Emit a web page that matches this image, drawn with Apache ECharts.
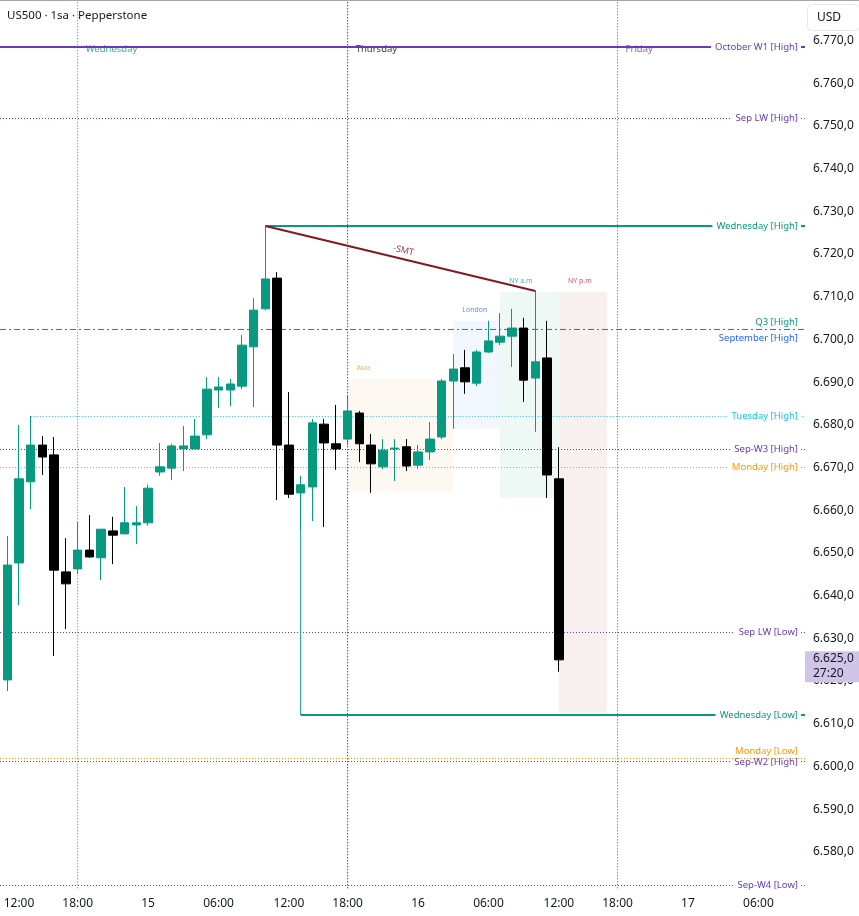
<!DOCTYPE html>
<html>
<head>
<meta charset="utf-8">
<style>html,body{margin:0;padding:0;background:#fff}#main{width:859px;height:916px}</style>
<script src="https://cdn.jsdelivr.net/npm/echarts@6/dist/echarts.min.js"></script>
</head>
<body>
<div id="main"></div>
<script>
// hourly bars, one bar per session hour (market closes 1h a day, so the bar number is the x value)
var opens = [6619.9,6647.3,6666.3,6674.9,6672.6,6645.2,6645.9,6650.3,6648.5,6654.8,6654.1,6656.2,6656.7,6668.6,6669.5,6674.0,6674.0,6677.3,6687.8,6687.8,6688.7,6697.9,6706.8,6714.0,6674.9,6663.7,6665.1,6679.8,6675.2,6676.3,6682.4,6674.9,6669.8,6674.0,6674.5,6670.2,6673.3,6676.8,6689.9,6693.0,6689.4,6696.7,6699.0,6700.4,6702.3,6690.6,6695.3,6667.0];
var closes = [6646.8,6667.0,6674.9,6672.1,6645.6,6642.4,6650.3,6648.7,6655.2,6653.8,6656.7,6656.7,6664.8,6669.8,6674.7,6674.7,6677.0,6688.0,6688.5,6689.2,6698.3,6706.5,6713.8,6674.9,6663.4,6665.6,6680.1,6675.4,6674.0,6682.9,6675.2,6670.5,6673.7,6674.2,6670.0,6673.3,6676.3,6689.9,6692.7,6689.7,6696.7,6699.3,6700.4,6702.3,6690.1,6694.4,6667.9,6624.6];
var lows = [6617.3,6637.4,6659.9,6667.9,6625.5,6631.8,6644.7,6648.5,6643.3,6647.0,6654.1,6651.7,6656.0,6667.7,6666.7,6668.8,6674.0,6676.3,6683.6,6684.0,6688.0,6683.8,6706.5,6662.0,6662.5,6655.0,6657.1,6655.7,6669.1,6674.9,6670.9,6663.7,6669.3,6666.5,6668.8,6669.3,6671.4,6676.3,6678.7,6686.9,6688.7,6696.5,6698.3,6693.2,6685.0,6678.0,6662.5,6621.8];
var highs = [6653.6,6679.6,6681.7,6677.0,6676.8,6653.1,6656.9,6658.5,6655.2,6658.1,6665.1,6660.6,6665.6,6675.4,6675.2,6679.4,6681.0,6690.8,6690.8,6690.4,6700.7,6709.3,6726.2,6715.4,6687.3,6667.7,6681.0,6681.0,6684.3,6686.6,6682.9,6677.5,6676.3,6676.3,6676.3,6674.9,6680.3,6690.4,6696.2,6697.2,6697.2,6704.0,6705.8,6706.8,6704.7,6711.0,6704.0,6674.4];

var timeTicks = [1,6,12,18,24,29,35,41,47,52,58,64];
var timeLabels = ['12:00','18:00','15','06:00','12:00','18:00','16','06:00','12:00','18:00','17','06:00'];
var priceTicks = [6580,6590,6600,6610,6620,6630,6640,6650,6660,6670,6680,6690,6700,6710,6720,6730,6740,6750,6760,6770];

// horizontal levels
var levelNames = ['October W1 [High]','Sep LW [High]','Wednesday [High]','September [High]','Q3 [High]','Tuesday [High]','Sep-W3 [High]','Monday [High]','Sep LW [Low]','Wednesday [Low]','Monday [Low]','Sep-W2 [High]','Sep-W4 [Low]'];
var levelValues = [6768.13,6751.38,6726.21,6701.97,6701.97,6681.59,6673.86,6669.65,6631.01,6611.69,6601.5,6600.8,6571.76];
var levelFromBar = [null,null,22,null,null,2,null,null,null,25,null,null,null];

// sessions
var sessionNames = ['Asia','London','NY a.m','NY p.m'];
var sessionFrom = [29,38,42,47];
var sessionTo = [38,42,47,51.1];
var sessionTop = [6690.4,6704.0,6710.8,6710.8];
var sessionBottom = [6663.8,6678.7,6662.5,6612.0];

// day separators
var dayNames = ['Wednesday','Thursday','Friday'];
var dayBars = [6,29,52];

var smtFrom = [22,6726.21];
var smtTo = [45,6711.0];
var lastPrice = 6625;
var countdown = '27:20';

var PURPLE = '#673ab7', TEAL = '#089981', CYAN = '#22c3d6', BLUE = '#2962ff', ORANGE = '#ff9800', DARK = '#131722';
var FONT = '"Noto Sans", sans-serif';
var xMin = -0.62, xMax = 67.97, yMin = 6570, yMax = 6779.13;

// line look and label placement for each level
var levelStyle = {
    'October W1 [High]': {color: PURPLE, width: 2, type: 'solid'},
    'Sep LW [High]': {color: PURPLE, width: 1, type: [1,2]},
    'Wednesday [High]': {color: TEAL, width: 2, type: 'solid'},
    'September [High]': {color: BLUE, width: 1, type: [6,3,2,3], dy: 8.5, plain: true},
    'Q3 [High]': {color: TEAL, width: 1, type: [6,8], dy: -7.5, plain: true},
    'Tuesday [High]': {color: CYAN, width: 1, type: [1,2]},
    'Sep-W3 [High]': {color: PURPLE, width: 1, type: [1,2]},
    'Monday [High]': {color: ORANGE, width: 1, type: [1,2]},
    'Sep LW [Low]': {color: PURPLE, width: 1, type: [1,2]},
    'Wednesday [Low]': {color: TEAL, width: 2, type: 'solid'},
    'Monday [Low]': {color: ORANGE, width: 1, type: [1,2], dy: -7.5, plain: true, z: 2.6},
    'Sep-W2 [High]': {color: PURPLE, width: 1, type: [1,2], dy: 0.5},
    'Sep-W4 [Low]': {color: PURPLE, width: 1, type: [1,2]}
};
var sessionFill = {'Asia': '#fdf9f2', 'London': '#f2f6fe', 'NY a.m': '#eef8f4', 'NY p.m': '#f8efef'};
var sessionText = {'Asia': ORANGE, 'London': BLUE, 'NY a.m': TEAL, 'NY p.m': '#b22833'};
var dayColor = {'Wednesday': TEAL, 'Thursday': '#000000', 'Friday': PURPLE};

function fmtPrice(v) {
    return Math.floor(v / 1000) + '.' + ('00' + (v % 1000)).slice(-3) + ',0';
}

function lineSeries(points, color, width, type, z) {
    return {
        type: 'line', data: points, showSymbol: false, silent: true, z: z, clip: false,
        lineStyle: {color: color, width: width, type: type, cap: 'butt'}
    };
}

var series = [];

// session boxes
series.push({
    type: 'custom', z: 1, silent: true, clip: false,
    data: sessionNames.map(function (n, i) { return [sessionFrom[i], sessionTo[i], sessionTop[i], sessionBottom[i]]; }),
    encode: {x: [0,1], y: [2,3]},
    renderItem: function (params, api) {
        var name = sessionNames[params.dataIndex];
        var a = api.coord([api.value(0), api.value(2)]);
        var b = api.coord([api.value(1), api.value(3)]);
        return {type: 'group', children: [
            {type: 'rect', shape: {x: a[0], y: a[1], width: b[0] - a[0], height: b[1] - a[1]}, style: {fill: sessionFill[name]}},
            {type: 'text', x: a[0] + 9, y: a[1] - 10.5, style: {text: name, fill: sessionText[name], opacity: 0.75, font: '7px ' + FONT, verticalAlign: 'middle'}}
        ]};
    }
});

// day separators with their names
dayNames.forEach(function (n, i) {
    series.push(lineSeries([[dayBars[i], yMin + 1.1], [dayBars[i], yMax]], dayColor[n], 1, [1,2], 1.4));
});
series.push({
    type: 'custom', z: 1.5, silent: true, clip: false,
    data: dayNames.map(function (n, i) { return [dayBars[i], levelValues[0]]; }),
    encode: {x: 0, y: 1},
    renderItem: function (params, api) {
        var name = dayNames[params.dataIndex];
        var p = api.coord([api.value(0), api.value(1)]);
        return {type: 'text', x: p[0] + 8, y: p[1] + 2, style: {text: name, fill: dayColor[name], opacity: 0.8, font: '9.5px ' + FONT, verticalAlign: 'middle'}};
    }
});

// levels
levelNames.forEach(function (n, i) {
    var s = levelStyle[n];
    var from = levelFromBar[i] === null ? xMin : levelFromBar[i];
    series.push(lineSeries([[from, levelValues[i]], [xMax, levelValues[i]]], s.color, s.width, s.type, s.z || 2));
});
// connector from the Wednesday low back up to its bar
series.push(lineSeries([[levelFromBar[9], lows[25]], [levelFromBar[9], levelValues[9]]], TEAL, 1, 'solid', 2));

// level labels
series.push({
    type: 'custom', z: 2.5, silent: true, clip: false,
    data: levelNames.map(function (n, i) { return [xMax, levelValues[i]]; }),
    encode: {x: 0, y: 1},
    renderItem: function (params, api) {
        var name = levelNames[params.dataIndex];
        var s = levelStyle[name];
        var p = api.coord([api.value(0), api.value(1)]);
        return {type: 'text', x: p[0] - 4, y: p[1] + (s.dy || 0), style: {
            text: name, fill: s.color, font: '9.5px ' + FONT, align: 'right', verticalAlign: 'middle',
            backgroundColor: s.plain ? 'transparent' : '#ffffff', padding: [0,3,0,4]
        }};
    }
});

// candles
series.push({
    type: 'candlestick', z: 3, barWidth: 9, silent: true, clip: false,
    data: opens.map(function (o, i) { return [i, o, closes[i], lows[i], highs[i]]; }),
    itemStyle: {color: TEAL, color0: '#000000', borderColor: TEAL, borderColor0: '#000000', borderWidth: 1}
});

// SMT line and its label
series.push(lineSeries([smtFrom, smtTo], '#801922', 2, 'solid', 4));
series.push({
    type: 'custom', z: 4, silent: true, clip: false,
    data: [[(smtFrom[0] + smtTo[0]) / 2, (smtFrom[1] + smtTo[1]) / 2]],
    encode: {x: 0, y: 1},
    renderItem: function (params, api) {
        var p = api.coord([api.value(0), api.value(1)]);
        return {type: 'text', x: p[0] + 3, y: p[1] - 8, rotation: -0.23, originX: 0, originY: 0, style: {text: '-SMT', fill: '#801922', opacity: 0.85, font: '9px ' + FONT, align: 'center', verticalAlign: 'middle'}};
    }
});

// last price tag over the price scale
series.push({
    type: 'custom', z: 10, silent: true, clip: false,
    data: [[xMax, lastPrice]],
    encode: {x: 0, y: 1},
    renderItem: function (params, api) {
        var p = api.coord([api.value(0), api.value(1)]);
        return {type: 'group', children: [
            {type: 'rect', shape: {x: p[0], y: p[1] - 7, width: 54, height: 31}, style: {fill: '#d1c4e9'}},
            {type: 'text', x: p[0] + 8, y: p[1] + 0.5, style: {text: fmtPrice(lastPrice), fill: DARK, font: '12px ' + FONT, verticalAlign: 'middle'}},
            {type: 'text', x: p[0] + 8, y: p[1] + 15, style: {text: countdown, fill: DARK, font: '12px ' + FONT, verticalAlign: 'middle'}}
        ]};
    }
});

var option = {
    animation: false,
    backgroundColor: '#ffffff',
    title: {text: 'US500 · 1sa · Pepperstone', left: 2, top: 5, textStyle: {color: DARK, fontFamily: FONT, fontSize: 11.5, fontWeight: 'normal'}},
    grid: {left: 0, right: 54, top: 0, bottom: 23},
    xAxis: {
        type: 'value', min: xMin, max: xMax,
        splitLine: {show: false}, axisLine: {show: false}, axisTick: {show: false},
        axisLabel: {
            customValues: timeTicks, color: DARK, fontFamily: FONT, fontSize: 12, margin: 5, hideOverlap: false,
            formatter: function (v) { return timeLabels[timeTicks.indexOf(v)]; }
        }
    },
    yAxis: {
        type: 'value', position: 'right', min: yMin, max: yMax,
        splitLine: {show: false}, axisLine: {show: false}, axisTick: {show: false},
        axisLabel: {customValues: priceTicks, color: DARK, fontFamily: FONT, fontSize: 12, margin: 8, verticalAlign: 'top', lineHeight: 3, formatter: fmtPrice}
    },
    graphic: [
        {type: 'rect', z: 20, shape: {x: 0, y: 0, width: 859, height: 1}, style: {fill: '#a3a6af'}},
        {type: 'rect', z: 20, shape: {x: 807.5, y: 4.5, width: 52, height: 26, r: 4}, style: {fill: '#ffffff', stroke: '#e6e8ee'}},
        {type: 'text', z: 21, x: 817, y: 17.5, style: {text: 'USD', fill: DARK, font: '12px ' + FONT, verticalAlign: 'middle'}}
    ],
    series: series
};

var chart = echarts.init(document.getElementById('main'));
chart.setOption(option);
</script>
</body>
</html>
